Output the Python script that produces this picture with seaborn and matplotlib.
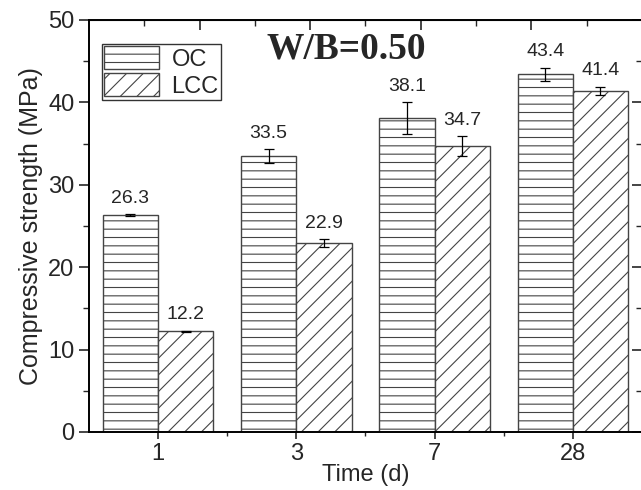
import pandas as pd
import numpy as np
import matplotlib.pyplot as plt
import seaborn as sns
from matplotlib.patches import Patch
from matplotlib.ticker import MultipleLocator

# data
times = ['1', '3', '7', '28']
oc_strength = [26.3, 33.5, 38.1, 43.4]
lcc_strength = [12.2, 22.9, 34.7, 41.4]
oc_err = [0.1, 0.8, 1.9, 0.8]
lcc_err = [0.1, 0.5, 1.2, 0.5]

df = pd.DataFrame({
    'Time': times * 2,
    'Strength': oc_strength + lcc_strength,
    'Type': ['OC'] * 4 + ['LCC'] * 4,
})

sns.set_style("ticks")
plt.rcParams['font.family'] = ['Liberation Sans', 'DejaVu Sans']
plt.rcParams['hatch.linewidth'] = 0.8

fig = plt.figure(figsize=(6.41, 4.90), dpi=100)
ax = fig.add_axes([0.1388, 0.1184, 0.8627, 0.8408])

sns.barplot(data=df, x='Time', y='Strength', hue='Type', order=times,
            hue_order=['OC', 'LCC'], palette=['white', 'white'],
            edgecolor='#444444', linewidth=1.0, errorbar=None,
            width=0.8, legend=False, ax=ax)

hatches = ['--', '//']
for cont, h, vals, errs in zip(ax.containers, hatches,
                               [oc_strength, lcc_strength], [oc_err, lcc_err]):
    xs = []
    for bar in cont:
        bar.set_hatch(h)
        xs.append(bar.get_x() + bar.get_width() / 2)
    ax.errorbar(xs, vals, yerr=errs, fmt='none', ecolor='black',
                elinewidth=0.9, capsize=3.5, capthick=0.9, zorder=5)
    for x, v, e in zip(xs, vals, errs):
        ax.text(x, v + e + 0.9, f'{v:.1f}', ha='center', va='bottom',
                fontsize=14)

ax.set_xlim(-0.5, 3.5)
ax.set_ylim(0, 50)
ax.yaxis.set_major_locator(MultipleLocator(10))
ax.yaxis.set_minor_locator(MultipleLocator(5))
ax.set_xticks([0.5, 1.5, 2.5], minor=True)
ax.tick_params(axis='y', which='major', length=7, width=1.2, labelsize=17,
               direction='out')
ax.tick_params(axis='y', which='minor', length=4, width=1.0, direction='out')
ax.tick_params(axis='x', which='major', length=5, width=1.2, labelsize=17,
               direction='out', pad=3)
ax.tick_params(axis='x', which='minor', length=3, width=1.0, direction='out')
for spine in ax.spines.values():
    spine.set_linewidth(1.4)
    spine.set_color('black')

# right ticks point inwards, top axis has its own tick set like in Origin
sec_y = ax.secondary_yaxis('right')
sec_y.yaxis.set_major_locator(MultipleLocator(10))
sec_y.yaxis.set_minor_locator(MultipleLocator(5))
sec_y.tick_params(which='major', direction='in', length=7, width=1.2,
                  labelright=False)
sec_y.tick_params(which='minor', direction='in', length=4, width=1.0)

sec_x = ax.secondary_xaxis('top')
sec_x.set_xticks([0.3, 1.1, 1.9, 2.7])
sec_x.set_xticks([-0.1, 0.7, 1.5, 2.3, 3.1], minor=True)
sec_x.tick_params(which='major', direction='in', length=7, width=1.2,
                  labeltop=False)
sec_x.tick_params(which='minor', direction='in', length=4, width=1.0)

ax.set_xlabel('Time (d)', fontsize=17, labelpad=-1)
ax.set_ylabel('Compressive strength (MPa)', fontsize=18, labelpad=4)

ax.text(0.465, 0.93, 'W/B=0.50', transform=ax.transAxes, ha='center',
        va='center', fontsize=27, fontweight='bold',
        family=['Liberation Serif', 'DejaVu Serif'])

handles = [Patch(facecolor='white', edgecolor='#444444', hatch=h, label=l)
           for h, l in zip(hatches, ['OC', 'LCC'])]
leg = ax.legend(handles=handles, loc='upper left',
                bbox_to_anchor=(0.0235, 0.942), fontsize=17, frameon=True,
                fancybox=False, edgecolor='black', borderpad=0.1,
                handlelength=2.3, handleheight=1.1, labelspacing=0.12,
                handletextpad=0.55, borderaxespad=0)
leg.get_frame().set_linewidth(1.0)

plt.savefig('out.png', dpi=100)
